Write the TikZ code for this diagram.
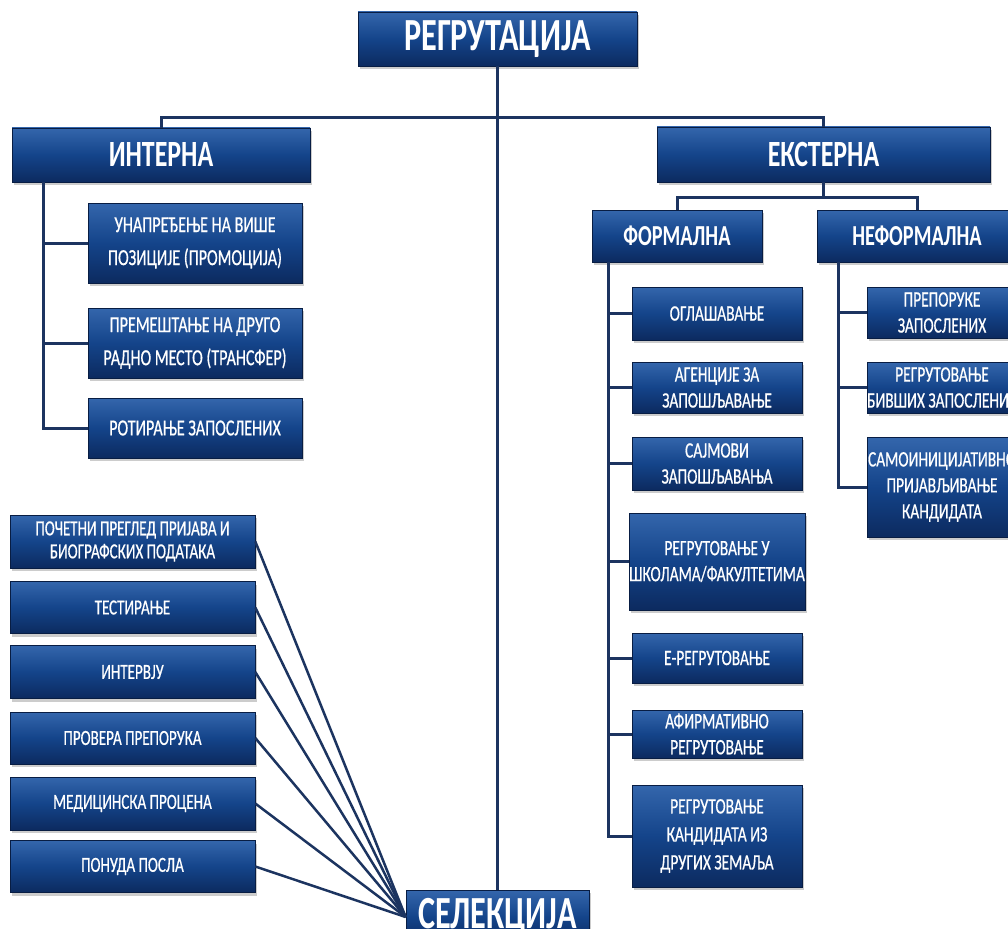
\documentclass[tikz,border=0pt]{standalone}
\usepackage{fontspec}
\setmainfont{Carlito}[FakeStretch=0.7,UprightFeatures={FakeBold=0.6}]
\usetikzlibrary{positioning,shadows}
\definecolor{boxtop}{RGB}{52,102,172}
\definecolor{boxmid}{RGB}{20,68,138}
\definecolor{boxbot}{RGB}{12,42,95}
\definecolor{linkblue}{RGB}{28,52,96}
\tikzset{
  rbox/.style={draw=boxbot!70!black,line width=0.6pt,
               top color=boxtop,bottom color=boxbot,middle color=boxmid,
               text=white,align=center,inner sep=0pt,
               drop shadow={shadow xshift=2pt,shadow yshift=-3pt,opacity=0.4}},
  bx/.style 2 args={minimum width=#1pt,minimum height=#2pt},
  bigbox/.style={rbox,font=\fontsize{46}{46}\selectfont\bfseries},
  midbox/.style={rbox,font=\fontsize{37}{37}\selectfont\bfseries},
  subbox/.style={rbox,font=\fontsize{29}{29}\selectfont\bfseries},
  itembox/.style={rbox,font=\fontsize{22}{26}\selectfont},
  selbox/.style={rbox,font=\fontsize{21.5}{23}\selectfont},
  link/.style={draw=linkblue,line width=3pt},
}

\begin{document}
\begin{tikzpicture}[x=1pt,y=-1pt]
    \useasboundingbox (0,0) rectangle (1008,928);
    \fill[white] (0,0) rectangle (1008,928);
    \clip (0,0) rectangle (1008,928);
    % top level
    \node[bigbox,bx={279}{54}] (top) at (497.5,39) {РЕГРУТАЦИЈА};
    \node[midbox,bx={298}{54}] (interna) at (161,155) {ИНТЕРНА};
    \node[midbox,bx={333}{55}] (eksterna) at (823.5,154.5) {ЕКСТЕРНА};
    \node[subbox,bx={170}{52}] (formalna) at (677,236) {ФОРМАЛНА};
    \node[subbox,bx={200}{52}] (neformalna) at (917,236) {НЕФОРМАЛНА};
    \node[bigbox,bx={183}{54}] (selekcija) at (497.5,917) {СЕЛЕКЦИЈА};
    % interna
    \node[itembox,bx={214}{80},font=\fontsize{23}{33}\selectfont] (in1) at (195,243) {УНАПРЕЂЕЊЕ НА ВИШЕ\\ПОЗИЦИЈЕ (ПРОМОЦИЈА)};
    \node[itembox,bx={214}{70},font=\fontsize{23}{33}\selectfont] (in2) at (195,343) {ПРЕМЕШТАЊЕ НА ДРУГО\\РАДНО МЕСТО (ТРАНСФЕР)};
    \node[itembox,bx={214}{60},font=\fontsize{23}{33}\selectfont] (in3) at (195,428) {РОТИРАЊЕ ЗАПОСЛЕНИХ};
    % formalna
    \node[itembox,bx={170}{53}] (fo1) at (717,313.5) {ОГЛАШАВАЊЕ};
    \node[itembox,bx={170}{51}] (fo2) at (717,387.5) {АГЕНЦИЈЕ ЗА\\ЗАПОШЉАВАЊЕ};
    \node[itembox,bx={170}{53}] (fo3) at (717,463.5) {САЈМОВИ\\ЗАПОШЉАВАЊА};
    \node[itembox,bx={170}{97}] (fo4) at (717,561.5) {РЕГРУТОВАЊЕ У\\ШКОЛАМА/ФАКУЛТЕТИМА};
    \node[itembox,bx={170}{50}] (fo5) at (717,658) {Е-РЕГРУТОВАЊЕ};
    \node[itembox,bx={170}{48}] (fo6) at (717,734) {АФИРМАТИВНО\\РЕГРУТОВАЊЕ};
    \node[itembox,bx={170}{102},font=\fontsize{22}{28}\selectfont] (fo7) at (717,836) {РЕГРУТОВАЊЕ\\КАНДИДАТА ИЗ\\ДРУГИХ ЗЕМАЉА};
    % neformalna
    \node[itembox,bx={150}{51}] (ne1) at (942,312.5) {ПРЕПОРУКЕ\\ЗАПОСЛЕНИХ};
    \node[itembox,bx={150}{51}] (ne2) at (942,387.5) {РЕГРУТОВАЊЕ\\БИВШИХ ЗАПОСЛЕНИХ};
    \node[itembox,bx={150}{100}] (ne3) at (942,487) {САМОИНИЦИЈАТИВНО\\ПРИЈАВЉИВАЊЕ\\КАНДИДАТА};
    % selekcija
    \node[selbox,bx={245}{53}] (se1) at (132.5,541.5) {ПОЧЕТНИ ПРЕГЛЕД ПРИЈАВА И\\БИОГРАФСКИХ ПОДАТАКА};
    \node[selbox,bx={245}{52}] (se2) at (132.5,607.5) {ТЕСТИРАЊЕ};
    \node[selbox,bx={245}{53}] (se3) at (132.5,672) {ИНТЕРВЈУ};
    \node[selbox,bx={245}{52}] (se4) at (132.5,738) {ПРОВЕРА ПРЕПОРУКА};
    \node[selbox,bx={245}{53}] (se5) at (132.5,803.5) {МЕДИЦИНСКА ПРОЦЕНА};
    \node[selbox,bx={245}{52}] (se6) at (132.5,866.5) {ПОНУДА ПОСЛА};
    % connectors
    \coordinate (ibus) at (43,182);
    \coordinate (fbus) at (608,262);
    \coordinate (nbus) at (838,262);
    \draw[link] (top.south) -- (selekcija.north);
    \draw[link] (interna.north) -- ++(0,-10) -| (eksterna.north);
    \draw[link] (eksterna.south) -- ++(0,16);
    \draw[link] (formalna.north) -- ++(0,-12) -| (neformalna.north);
    \draw[link] (ibus) |- (in3.west);
    \foreach \n in {in1,in2}
      \draw[link] (\n.west) -- (\n.west -| ibus);
    \draw[link] (fbus) |- (fo7.west);
    \foreach \n in {fo1,fo2,fo3,fo4,fo5,fo6}
      \draw[link] (\n.west) -- (\n.west -| fbus);
    \draw[link] (nbus) |- (ne3.west);
    \foreach \n in {ne1,ne2}
      \draw[link] (\n.west) -- (\n.west -| nbus);
    \foreach \n in {se1,se2,se3,se4,se5,se6}
      \draw[link,line width=2.5pt] (\n.east) -- (selekcija.west);
\end{tikzpicture}
\end{document}
